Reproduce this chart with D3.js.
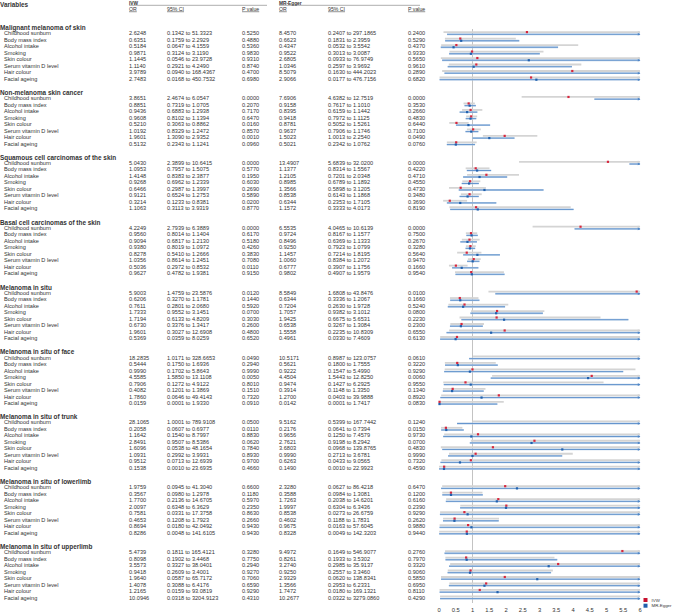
<!DOCTYPE html>
<html>
<head>
<meta charset="utf-8">
<script src="https://cdn.jsdelivr.net/npm/d3@7"></script>
<style>
body { margin: 0; background: #fff; }
svg { display: block; font-family: "Liberation Sans", Arial, sans-serif; }
</style>
</head>
<body>
<svg id="chart" width="676" height="614"></svg>
<script>
var groups = ["Malignant melanoma of skin", "Non-melanoma skin cancer", "Squamous cell carcinomas of the skin",
	"Basal cell carcinomas of the skin", "Melanoma in situ", "Melanoma in situ of face",
	"Melanoma in situ of trunk", "Melanoma in situ of lowerlimb", "Melanoma in situ of upperlimb"];
var variables = ["Childhood sunburn", "Body mass index", "Alcohol intake", "Smoking", "Skin colour",
	"Serum vitamin D level", "Hair colour", "Facial ageing"];
var ticks = [0, 0.5, 1, 1.5, 2, 2.5, 3, 3.5, 4, 4.5, 5, 5.5, 6];

// IVW
var ivwOR = [
	[2.6248, 0.6351, 0.5184, 0.9871, 1.1445, 1.1140, 3.9789, 2.7483],
	[3.8651, 0.8851, 0.9436, 0.9608, 0.5210, 1.0192, 1.9601, 0.5132],
	[5.0430, 1.0953, 1.4148, 0.9268, 0.6466, 0.9121, 0.3214, 1.1063],
	[4.2249, 0.9560, 0.9094, 0.9380, 0.8278, 1.0356, 0.5036, 0.9627],
	[5.9003, 0.6206, 0.7611, 1.7333, 1.7194, 0.6730, 1.9601, 0.5369],
	[18.2835, 0.5444, 0.9990, 4.5585, 0.7906, 0.4082, 1.7860, 0.0159],
	[28.1065, 0.2058, 1.1642, 2.8491, 1.6096, 1.0931, 0.9512, 0.1538],
	[1.9759, 0.3567, 1.7700, 2.0097, 0.7581, 0.4653, 0.8694, 0.8286],
	[5.4739, 0.8098, 3.5573, 0.9418, 1.9640, 1.4078, 1.2165, 10.0946]];
var ivwLo = [
	[0.1342, 0.1759, 0.0647, 0.3124, 0.0546, 0.2921, 0.0940, 0.0168],
	[2.4674, 0.7319, 0.6883, 0.8102, 0.3063, 0.8329, 1.3090, 0.2343],
	[2.3899, 0.7957, 0.8383, 0.6962, 0.2987, 0.6524, 0.1233, 0.3113],
	[2.7939, 0.8014, 0.6817, 0.8019, 0.5410, 0.8614, 0.2972, 0.4782],
	[1.4759, 0.3270, 0.2801, 0.9552, 0.6133, 0.3376, 0.3027, 0.0359],
	[1.0171, 0.1750, 0.1702, 1.5850, 0.1272, 0.1201, 0.0646, 0.0001],
	[1.0001, 0.0607, 0.1540, 0.9507, 0.0538, 0.2992, 0.0713, 0.0010],
	[0.0945, 0.0980, 0.2136, 0.6348, 0.0331, 0.1208, 0.0180, 0.0048],
	[0.1811, 0.1902, 0.3327, 0.2609, 0.0587, 0.3088, 0.0159, 0.0318]];
var ivwHi = [
	[51.3323, 2.2929, 4.1559, 3.1190, 23.9728, 4.2490, 168.4367, 450.7532],
	[6.0547, 1.0705, 1.2938, 1.1394, 0.8862, 1.2472, 2.9352, 1.1241],
	[10.6415, 1.5075, 2.3877, 1.2339, 1.3997, 1.2753, 0.8381, 3.9319],
	[6.3889, 1.1404, 1.2130, 1.0972, 1.2666, 1.2451, 0.8532, 1.9381],
	[23.5876, 1.1781, 2.0680, 3.1451, 4.8209, 1.3417, 12.6908, 8.0259],
	[328.6653, 1.6936, 5.8643, 13.1108, 4.9122, 1.3869, 49.4143, 1.9330],
	[789.9108, 0.6977, 8.7997, 8.5386, 48.1654, 3.9931, 12.6939, 23.6935],
	[41.3040, 1.2978, 14.6705, 6.3629, 17.3758, 1.7923, 42.0492, 141.6105],
	[165.4121, 3.4468, 38.0401, 3.4001, 65.7172, 6.4176, 93.0819, 3204.9123]];
var ivwP = [
	[0.5250, 0.4880, 0.5360, 0.9830, 0.9310, 0.8740, 0.4700, 0.6980],
	[0.0000, 0.2070, 0.7170, 0.6470, 0.0160, 0.8570, 0.0010, 0.0960],
	[0.0000, 0.5770, 0.1950, 0.6030, 0.2690, 0.5890, 0.0200, 0.8770],
	[0.0000, 0.6170, 0.5180, 0.4260, 0.3830, 0.7080, 0.0110, 0.9150],
	[0.0120, 0.1440, 0.5920, 0.0700, 0.3030, 0.2600, 0.4800, 0.6520],
	[0.0490, 0.2940, 0.9990, 0.0050, 0.8010, 0.1510, 0.7320, 0.0910],
	[0.0500, 0.0110, 0.8830, 0.0620, 0.7840, 0.8930, 0.9700, 0.4660],
	[0.6600, 0.1180, 0.5970, 0.2350, 0.8630, 0.2660, 0.9430, 0.9430],
	[0.3280, 0.7750, 0.2940, 0.9270, 0.7060, 0.6590, 0.9290, 0.4310]];

// MR-Egger
var eggerOR = [
	[8.4570, 0.6623, 0.4347, 0.9522, 2.6805, 1.0346, 8.5079, 2.9066],
	[7.6906, 0.9158, 0.8395, 0.9418, 0.8781, 0.9637, 1.5023, 0.5021],
	[13.4907, 1.1377, 1.2105, 0.8985, 1.3566, 0.8538, 0.6344, 1.1572],
	[6.5535, 0.9724, 0.8496, 0.9250, 1.1457, 1.0060, 0.6777, 0.9802],
	[8.5849, 0.6344, 0.7204, 1.7057, 1.9425, 0.6538, 1.5558, 0.4961],
	[10.5171, 0.5621, 0.9222, 4.4504, 0.9474, 0.3914, 1.2700, 0.0142],
	[9.5162, 0.2176, 0.9656, 2.7621, 3.6803, 0.9990, 0.6263, 0.1490],
	[2.3280, 0.3588, 1.7263, 1.9997, 0.8538, 0.4602, 0.9675, 0.8328],
	[9.4972, 0.8261, 3.2740, 0.9250, 2.9329, 1.3566, 1.7472, 10.2677]];
var eggerLo = [
	[0.2407, 0.1831, 0.0532, 0.3013, 0.0933, 0.2597, 0.1630, 0.0177],
	[4.6382, 0.7617, 0.6159, 0.7972, 0.5052, 0.7906, 1.0013, 0.2342],
	[5.6839, 0.8314, 0.7201, 0.6789, 0.5898, 0.6143, 0.2353, 0.3333],
	[4.0465, 0.8167, 0.6369, 0.7923, 0.7214, 0.8384, 0.3907, 0.4907],
	[1.6808, 0.3336, 0.2630, 0.9382, 0.6675, 0.3267, 0.2235, 0.0330],
	[0.8987, 0.1800, 0.1547, 1.5443, 0.1427, 0.1148, 0.0403, 0.0001],
	[0.5399, 0.0641, 0.1250, 0.9198, 0.0968, 0.2713, 0.0433, 0.0010],
	[0.0627, 0.0984, 0.2038, 0.6304, 0.0273, 0.1188, 0.0163, 0.0049],
	[0.1649, 0.1933, 0.2985, 0.2557, 0.0620, 0.2953, 0.0180, 0.0322]];
var eggerHi = [
	[297.1865, 2.3959, 3.5542, 3.0087, 76.9749, 3.9692, 444.2023, 476.7156],
	[12.7519, 1.1010, 1.1442, 1.1125, 1.5261, 1.1746, 2.2540, 1.0762],
	[32.0200, 1.5567, 2.0348, 1.1892, 3.1205, 1.1868, 1.7105, 4.0173],
	[10.6139, 1.1577, 1.1333, 1.0799, 1.8195, 1.2072, 1.1756, 1.9579],
	[43.8476, 1.2067, 1.9728, 3.1012, 5.6531, 1.3084, 10.8309, 7.4609],
	[123.0757, 1.7555, 5.4990, 12.8250, 6.2925, 1.3350, 39.9888, 1.7417],
	[167.7442, 0.7394, 7.4579, 8.2942, 139.8765, 3.6781, 9.0565, 22.9923],
	[86.4218, 1.3081, 14.6201, 6.3436, 26.6759, 1.7831, 57.6045, 142.3203],
	[546.9077, 3.5302, 35.9137, 3.3460, 138.8341, 6.2331, 169.1321, 3279.0860]];
var eggerP = [
	[0.2400, 0.5290, 0.4370, 0.9330, 0.5650, 0.9610, 0.2890, 0.6820],
	[0.0000, 0.3530, 0.2660, 0.4830, 0.6440, 0.7100, 0.0490, 0.0760],
	[0.0000, 0.4220, 0.4710, 0.4550, 0.4730, 0.3480, 0.3690, 0.8190],
	[0.0000, 0.7500, 0.2670, 0.3280, 0.5640, 0.9470, 0.1660, 0.9540],
	[0.0100, 0.1660, 0.5240, 0.0800, 0.2230, 0.2300, 0.6550, 0.6130],
	[0.0610, 0.3220, 0.9290, 0.0060, 0.9550, 0.1340, 0.8920, 0.0830],
	[0.1240, 0.0150, 0.9730, 0.0700, 0.4830, 0.9990, 0.7320, 0.4590],
	[0.6470, 0.1200, 0.6160, 0.2390, 0.9290, 0.2620, 0.9880, 0.9440],
	[0.2760, 0.7970, 0.3320, 0.9060, 0.5850, 0.6950, 0.8110, 0.4290]];

var svg = d3.select("#chart");
var f4 = d3.format(".4f");
var textCol = "#333";

// rows: each group = title + 8 variables + blank
var rowH = 6.487;
var y = function(idx){ return 26.8 + idx * rowH; };
var x = d3.scaleLinear().domain([0, 6]).range([439, 640]);

var cols = {label: 4, ivwOR: 129, ivwCI: 167, ivwP: 242, egOR: 279, egCI: 328, egP: 408};

// header
svg.append("text").attr("x", 0).attr("y", 6.5).attr("font-size", 6.4).attr("font-weight", "bold")
	.attr("fill", textCol).text("Variables");
svg.append("text").attr("x", cols.ivwOR).attr("y", 4.6).attr("font-size", 4.8).attr("font-weight", "bold")
	.attr("fill", textCol).text("IVW");
svg.append("text").attr("x", cols.egOR).attr("y", 4.6).attr("font-size", 4.8).attr("font-weight", "bold")
	.attr("fill", textCol).text("MR-Egger");
svg.append("line").attr("x1", cols.ivwOR).attr("x2", 267).attr("y1", 5.3).attr("y2", 5.3)
	.attr("stroke", "#777").attr("stroke-width", 0.6);
svg.append("line").attr("x1", cols.egOR).attr("x2", 420).attr("y1", 5.3).attr("y2", 5.3)
	.attr("stroke", "#777").attr("stroke-width", 0.6);
[["OR", cols.ivwOR], ["95% CI", cols.ivwCI], ["P value", cols.ivwP],
 ["OR", cols.egOR], ["95% CI", cols.egCI], ["P value", cols.egP]].forEach(function(h){
	svg.append("text").attr("x", h[1]).attr("y", 10.6).attr("font-size", 5.2)
		.attr("fill", textCol).attr("text-decoration", "underline").text(h[0]);
});

// reference line at OR = 1
svg.append("line").attr("x1", x(1)).attr("x2", x(1)).attr("y1", 29).attr("y2", 603)
	.attr("stroke", "#9a9a9a").attr("stroke-width", 0.6);

function ciLine(g, lo, hi, yy, color, width){
	var a = Math.max(0, lo), b = Math.min(6, hi);
	if (a >= 6) return;
	g.append("line").attr("x1", x(a)).attr("x2", x(b)).attr("y1", yy).attr("y2", yy)
		.attr("stroke", color).attr("stroke-width", width);
	if (hi > 6) {
		g.append("path")
			.attr("d", "M" + (x(6) - 2.2) + "," + (yy - 1.3) + "L" + (x(6) + 0.4) + "," + yy + "L" + (x(6) - 2.2) + "," + (yy + 1.3) + "Z")
			.attr("fill", color);
	}
}
function dot(g, v, yy, color){
	if (v > 6) return;
	g.append("rect").attr("x", x(v) - 1.1).attr("y", yy - 1.1).attr("width", 2.2).attr("height", 2.2)
		.attr("fill", color);
}

groups.forEach(function(name, gi){
	var base = gi * 10;
	svg.append("text").attr("x", 0).attr("y", y(base) + 1).attr("dy", "0.35em")
		.attr("font-size", 6.4).attr("font-weight", "bold").attr("fill", textCol).text(name);
	variables.forEach(function(v, vi){
		var yy = y(base + 1 + vi);
		var row = svg.append("g");
		var cells = [
			[cols.label, v],
			[cols.ivwOR, f4(ivwOR[gi][vi])],
			[cols.ivwCI, f4(ivwLo[gi][vi]) + " to " + f4(ivwHi[gi][vi])],
			[cols.ivwP, f4(ivwP[gi][vi])],
			[cols.egOR, f4(eggerOR[gi][vi])],
			[cols.egCI, f4(eggerLo[gi][vi]) + " to " + f4(eggerHi[gi][vi])],
			[cols.egP, f4(eggerP[gi][vi])]
		];
		cells.forEach(function(c){
			row.append("text").attr("x", c[0]).attr("y", yy).attr("dy", "0.35em")
				.attr("font-size", 5.6).attr("fill", textCol).text(c[1]);
		});
		// IVW: grey CI, red point; MR-Egger: blue CI, blue point
		ciLine(row, ivwLo[gi][vi], ivwHi[gi][vi], yy - 1.2, "#d4d4d4", 1.8);
		ciLine(row, eggerLo[gi][vi], eggerHi[gi][vi], yy + 1, "#b9cfe8", 1.8);
		ciLine(row, eggerLo[gi][vi], eggerHi[gi][vi], yy + 1, "#4f86c6", 0.8);
		dot(row, ivwOR[gi][vi], yy - 1.2, "#d7263d");
		dot(row, eggerOR[gi][vi], yy + 1, "#2060ad");
	});
});

// x axis labels
svg.append("g").selectAll("text").data(ticks).join("text")
	.attr("x", function(d){ return x(d); }).attr("y", 610).attr("dy", "0.35em")
	.attr("text-anchor", "middle").attr("font-size", 5.8).attr("fill", textCol)
	.text(function(d){ return d; });

// legend
var legend = [["IVW", "#c8102e"], ["MR-Egger", "#1f5fad"]];
legend.forEach(function(l, i){
	var ly = 600 + i * 5.7;
	svg.append("rect").attr("x", 643.5).attr("y", ly - 2).attr("width", 4).attr("height", 4).attr("fill", l[1]);
	svg.append("text").attr("x", 651.5).attr("y", ly).attr("dy", "0.35em")
		.attr("font-size", 4.4).attr("fill", textCol).text(l[0]);
});
</script>
</body>
</html>
